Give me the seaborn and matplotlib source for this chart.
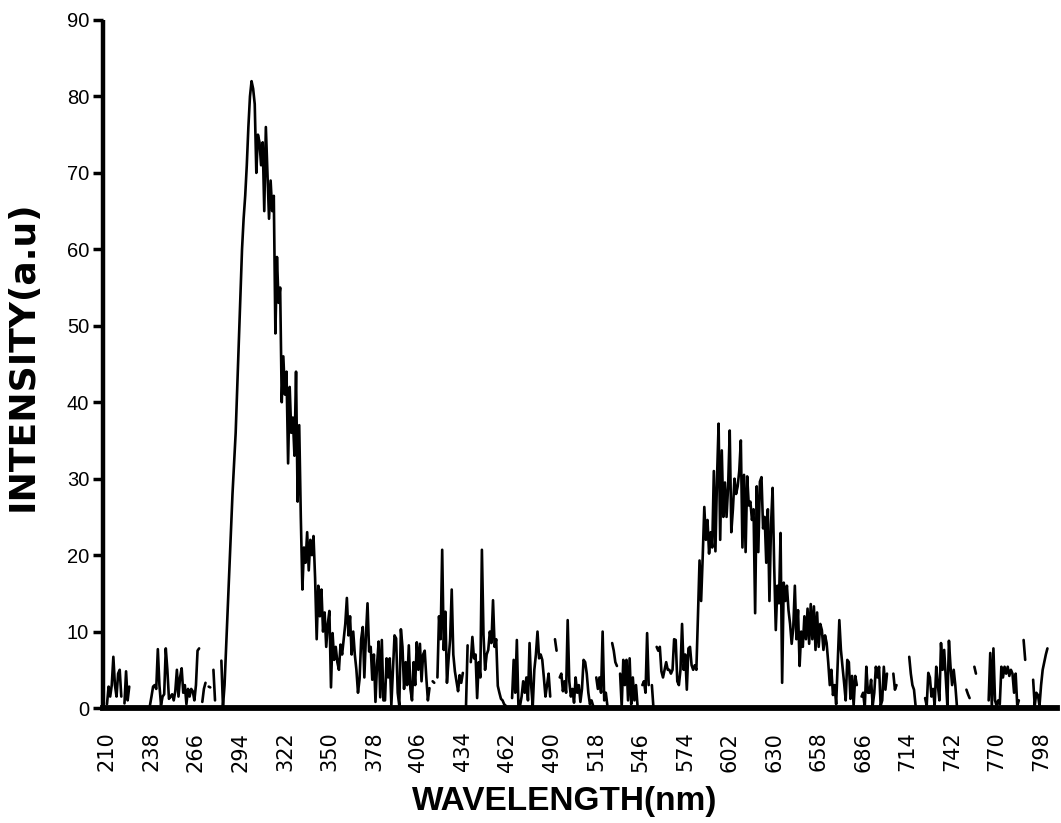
import numpy as np
import pandas as pd
import seaborn as sns
import matplotlib.pyplot as plt

nan = np.nan

# Emission spectrum, 1 nm steps starting at 210 nm (nan = no reading)
wavelength_start = 210
intensity = [
    0.5, 2.8, 1.5, 3.0, 6.7, 3.0, 1.5, 4.5, 5.0, 1.5,        # 210
    nan, 0.6, 4.8, 1.0, 2.8, nan, nan, nan, nan, nan,        # 220
    nan, nan, nan, nan, nan, nan, nan, 0.3, 1.5, 2.8,        # 230
    3.0, 2.5, 7.7, 3.0, 0.4, 1.5, 1.8, 7.8, 5.0, 1.2,        # 240
    1.5, 1.8, 1.0, 2.2, 5.0, 1.5, 4.0, 5.2, 2.0, 3.0,        # 250
    0.5, 2.5, 1.5, 2.5, 2.2, 1.0, 3.0, 7.5, 7.8, nan,        # 260
    0.8, 2.5, 3.3, nan, 2.8, 2.7, nan, 5.0, 1.0, nan,        # 270
    nan, nan, 6.2, 0.2, 3.0, 8.0, 13.0, 18.0, 23.0, 28.0,    # 280
    32.0, 36.0, 42.0, 48.0, 54.0, 60.0, 64.0, 67.0, 71.0, 76.0,  # 290
    80.0, 82.0, 81.0, 79.0, 70.0, 75.0, 74.0, 71.0, 74.0, 65.0,  # 300
    76.0, 70.0, 64.0, 69.0, 65.0, 67.0, 49.0, 59.0, 53.0, 55.0,  # 310
    40.0, 46.0, 41.0, 44.0, 32.0, 42.0, 36.0, 38.0, 33.0, 44.0,  # 320
    27.0, 37.0, 25.0, 15.5, 21.0, 19.0, 23.0, 18.0, 22.0, 20.0,  # 330
    22.5, 17.0, 9.0, 16.0, 12.0, 15.5, 10.0, 12.5, 8.0, 11.0,    # 340
    12.7, 2.7, 9.8, 6.3, 8.0, 6.0, 5.0, 8.3, 7.0, 9.0,       # 350
    11.0, 14.4, 9.5, 12.0, 7.0, 10.0, 7.0, 5.0, 2.0, 3.8,    # 360
    9.0, 10.6, 4.0, 9.5, 13.7, 7.4, 8.0, 3.7, 7.0, 0.8,      # 370
    5.7, 8.7, 1.4, 8.9, 1.0, 1.0, 6.5, 4.0, 6.5, 0.4,        # 380
    5.0, 9.5, 9.1, 2.0, 0.3, 10.3, 8.0, 2.5, 6.0, 3.0,       # 390
    8.2, 2.5, 1.0, 6.0, 3.0, 8.6, 5.0, 8.4, 3.5, 7.0,        # 400
    7.5, 4.0, 1.0, 2.6, nan, 3.5, 3.3, nan, 4.0, 12.0,       # 410
    9.0, 20.7, 7.6, 12.6, 3.3, 6.3, 9.0, 15.5, 7.0, 4.8,     # 420
    3.5, 2.2, 4.3, 3.3, 4.6, nan, 0.3, 8.2, nan, 6.0,        # 430
    9.3, 6.5, 7.0, 1.3, 6.0, 4.0, 20.7, 9.6, 5.0, 7.0,       # 440
    7.6, 10.0, 8.5, 14.1, 8.0, 9.0, 2.9, 2.0, 1.2, 1.0,      # 450
    0.5, 0.3, nan, nan, nan, 1.3, 6.3, 2.0, 8.9, 0.2,        # 460
    0.3, 1.5, 3.5, 2.0, 4.0, 1.0, 8.5, 3.0, 0.2, 5.0,        # 470
    7.0, 10.0, 6.5, 7.0, 6.3, 4.0, 1.5, 3.0, 4.5, 1.5,       # 480
    nan, nan, 9.0, 7.5, nan, 4.0, 4.5, 2.2, 3.5, 2.0,        # 490
    11.5, 3.5, 1.5, 2.5, 0.7, 4.0, 2.0, 3.0, 0.8, 2.5,       # 500
    6.3, 6.0, 4.5, 2.0, 0.5, 1.0, 0.3, nan, 4.0, 2.5,        # 510
    4.0, 2.0, 10.0, 1.0, 2.0, 0.3, nan, nan, 8.5, 7.5,       # 520
    6.0, 5.5, nan, 4.5, 0.2, 6.3, 3.0, 6.3, 1.0, 6.5,        # 530
    0.5, 4.0, 1.0, 3.0, 0.2, nan, nan, 3.0, 3.5, 2.0,        # 540
    9.8, 3.0, nan, 3.0, 0.0, nan, 8.0, 7.5, 8.0, 4.8,        # 550
    4.0, 5.0, 6.0, 5.0, 5.0, 4.5, 5.0, 9.0, 8.9, 3.5,        # 560
    3.0, 5.0, 11.0, 5.0, 7.0, 2.4, 7.8, 8.0, 5.6, 5.0,       # 570
    5.6, 5.0, 12.0, 19.3, 14.0, 19.8, 26.3, 22.0, 24.6, 20.2,    # 580
    23.0, 21.0, 31.0, 20.5, 30.0, 37.2, 22.0, 33.7, 25.0, 29.5,  # 590
    25.0, 29.0, 36.3, 23.0, 26.0, 30.0, 28.0, 29.0, 31.0, 35.0,  # 600
    21.0, 30.5, 20.4, 30.3, 26.5, 27.0, 24.6, 26.0, 12.4, 29.0,  # 610
    20.4, 29.6, 30.2, 23.5, 25.0, 19.0, 26.0, 14.0, 24.0, 28.8,  # 620
    18.5, 10.2, 16.0, 13.7, 22.9, 3.3, 16.4, 14.0, 16.0, 12.8,   # 630
    11.0, 8.4, 10.5, 16.0, 9.0, 12.8, 5.5, 10.0, 8.0, 12.0,      # 640
    9.0, 13.0, 8.4, 13.6, 9.0, 13.3, 7.6, 12.5, 8.0, 11.0,       # 650
    10.2, 7.6, 9.5, 8.5, 6.0, 3.0, 5.0, 1.7, 3.0, 0.5,       # 660
    6.0, 11.5, 7.6, 5.4, 3.3, 1.0, 6.3, 6.0, 1.2, 4.2,       # 670
    0.3, 4.2, 3.0, nan, nan, 1.5, 2.0, 0.0, 5.4, 2.0,        # 680
    2.0, 3.7, 0.3, 2.0, 5.4, 4.0, 5.4, 0.3, 1.0, 5.4,        # 690
    2.4, 4.5, nan, nan, nan, 4.5, 2.4, 3.0, nan, nan,        # 700
    nan, nan, nan, nan, nan, 6.7, 4.5, 3.0, 2.4, 0.3,        # 710
    nan, nan, nan, nan, nan, 1.3, 0.3, 4.6, 4.0, 1.5,        # 720
    2.5, 0.3, 5.4, 3.0, 1.0, 8.5, 5.0, 7.6, 4.0, 0.3,        # 730
    8.8, 5.4, 3.0, 5.0, 3.0, 0.3, nan, nan, nan, nan,        # 740
    nan, 2.4, 1.8, 1.3, nan, nan, 5.4, 4.5, nan, nan,        # 750
    nan, nan, nan, nan, nan, 1.0, 7.2, 0.2, 7.8, 1.0,        # 760
    0.3, 1.0, 0.5, 5.4, 4.0, 5.4, 4.5, 5.4, 4.2, 5.0,        # 770
    4.5, 2.0, 4.5, 0.3, 1.0, nan, nan, 8.9, 6.3, nan,        # 780
    nan, nan, nan, 3.7, 0.3, 2.0, 1.7, 0.3, 3.0, 5.0,        # 790
    6.0, 7.0, 7.8,                                           # 800
]

x_tick_values = list(range(210, 799, 28))
y_tick_values = list(range(0, 91, 10))

wavelength = wavelength_start + np.arange(len(intensity))
df = pd.DataFrame({"wavelength": wavelength, "intensity": intensity})
# Missing readings break the trace into separate runs
df["run"] = df["intensity"].isna().cumsum()
df = df.dropna(subset=["intensity"])

sns.set_style("ticks")
plt.rcParams["font.family"] = ["Liberation Sans", "DejaVu Sans"]
for key in ("text.color", "axes.labelcolor", "xtick.color", "ytick.color",
            "axes.edgecolor"):
    plt.rcParams[key] = "black"

fig = plt.figure(figsize=(10.61, 8.23), dpi=100)
ax = fig.add_axes([0.0971, 0.1397, 0.8991, 0.836])

sns.lineplot(data=df, x="wavelength", y="intensity", units="run",
             estimator=None, color="black", linewidth=1.9, ax=ax,
             legend=False)

ax.set_xlim(207.5, 808)
ax.set_ylim(0, 90)
ax.set_xticks(x_tick_values)
ax.set_xticklabels([str(v) for v in x_tick_values], rotation=90,
                   fontsize=15, family="DejaVu Sans")
ax.set_yticks(y_tick_values)
ax.set_yticklabels([str(v) for v in y_tick_values], fontsize=14.5)
ax.tick_params(axis="x", length=0, pad=17)
ax.tick_params(axis="y", length=7, width=2.5, direction="out", pad=3)

sns.despine(ax=ax)
ax.spines["left"].set_linewidth(3.2)
ax.spines["bottom"].set_linewidth(4.2)
ax.spines["left"].set_capstyle("butt")

ax.set_xlabel("WAVELENGTH(nm)", fontsize=24, fontweight="bold")
ax.xaxis.set_label_coords(0.484, -0.113)
ax.set_ylabel("INTENSITY(a.u)", fontsize=26, fontweight="bold",
              family="DejaVu Sans")
ax.yaxis.set_label_coords(-0.066, 0.512)

fig.savefig("out.png", dpi=100, facecolor="white")
